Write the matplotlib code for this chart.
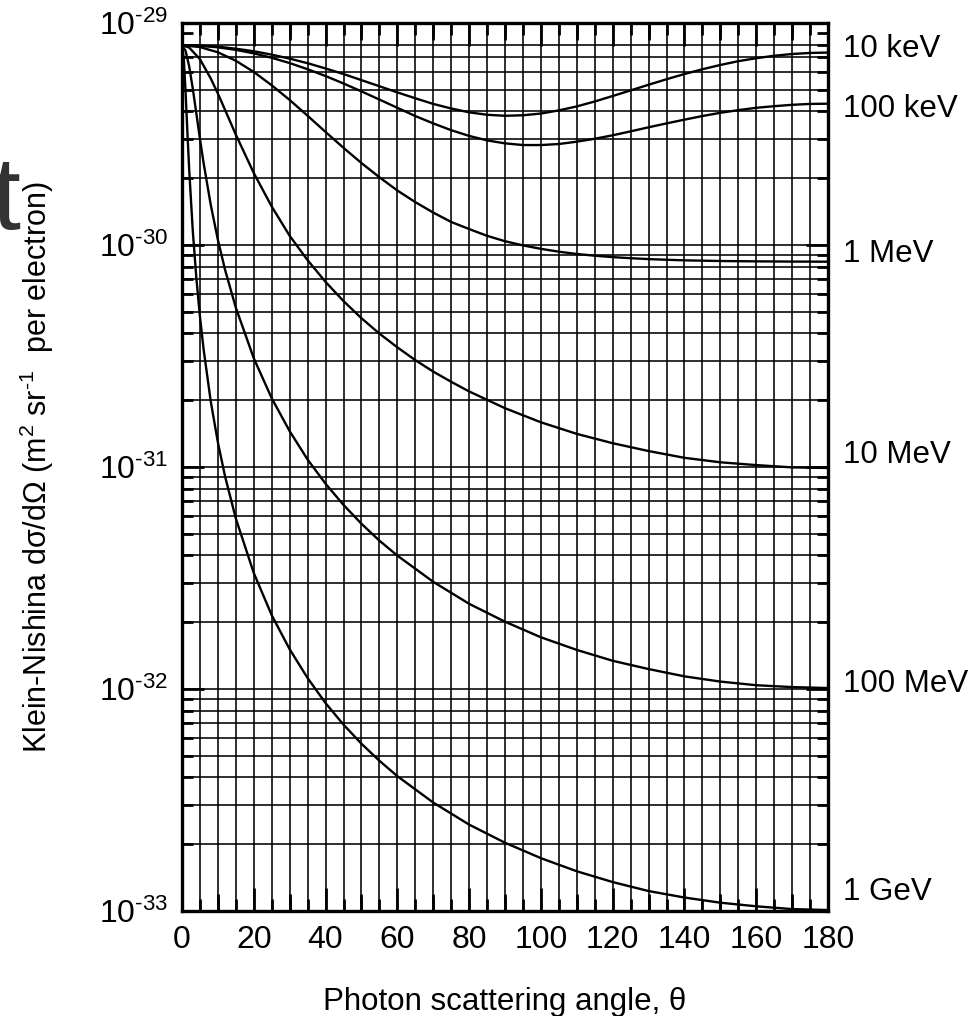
import numpy as np
import matplotlib
matplotlib.use("Agg")
import matplotlib.pyplot as plt
import matplotlib.transforms as mtransforms
from matplotlib.ticker import MultipleLocator, LogLocator, FuncFormatter

plt.rcParams['font.family'] = ['Liberation Sans', 'DejaVu Sans']
plt.rcParams['mathtext.fontset'] = 'custom'
plt.rcParams['mathtext.rm'] = 'Liberation Sans'
plt.rcParams['mathtext.it'] = 'Liberation Sans:italic'
plt.rcParams['mathtext.bf'] = 'Liberation Sans:bold'
plt.rcParams['axes.unicode_minus'] = False

# cross sections, in units of 1e-30 m^2 sr^-1
ang_10keV = [0, 5, 10, 15, 20, 25, 30, 35, 40, 45, 50, 55, 60, 65, 70, 75, 80, 85, 90, 95, 100,
             105, 110, 115, 120, 125, 130, 135, 140, 145, 150, 155, 160, 165, 170, 175, 180]
xs_10keV = [7.94, 7.91, 7.82, 7.66, 7.46, 7.20, 6.91, 6.59, 6.24, 5.89, 5.53, 5.19, 4.87, 4.58,
            4.32, 4.12, 3.96, 3.86, 3.82, 3.84, 3.91, 4.04, 4.21, 4.43, 4.69, 4.97, 5.27, 5.58,
            5.89, 6.19, 6.47, 6.73, 6.94, 7.12, 7.25, 7.33, 7.36]

ang_100keV = [0, 5, 10, 15, 20, 25, 30, 35, 40, 45, 50, 55, 60, 65, 70, 75, 80, 85, 90, 95, 100,
              105, 110, 115, 120, 125, 130, 135, 140, 145, 150, 155, 160, 165, 170, 175, 180]
xs_100keV = [7.94, 7.90, 7.77, 7.57, 7.30, 6.97, 6.60, 6.19, 5.77, 5.34, 4.92, 4.52, 4.15, 3.81,
             3.53, 3.29, 3.10, 2.96, 2.87, 2.82, 2.82, 2.85, 2.92, 3.01, 3.12, 3.25, 3.39, 3.53,
             3.67, 3.81, 3.94, 4.05, 4.15, 4.22, 4.28, 4.32, 4.33]

ang_1MeV = [0, 5, 10, 15, 20, 25, 30, 35, 40, 45, 50, 55, 60, 65, 70, 75, 80, 85, 90, 95, 100,
            105, 110, 115, 120, 125, 130, 135, 140, 150, 160, 170, 180]
xs_1MeV = [7.94, 7.79, 7.38, 6.76, 6.02, 5.24, 4.50, 3.82, 3.23, 2.74, 2.34, 2.02, 1.76, 1.56,
           1.40, 1.27, 1.18, 1.10, 1.04, 0.996, 0.961, 0.933, 0.911, 0.895, 0.882, 0.872, 0.864,
           0.858, 0.853, 0.847, 0.844, 0.842, 0.841]

ang_10MeV = [0, 2, 5, 8, 10, 12, 15, 20, 25, 30, 35, 40, 45, 50, 55, 60, 65, 70, 75, 80, 90, 100,
             110, 120, 130, 140, 150, 160, 170, 180]
xs_10MeV = [7.94, 7.75, 6.87, 5.63, 4.81, 4.06, 3.14, 2.11, 1.49, 1.10, 0.854, 0.682, 0.559,
            0.468, 0.399, 0.346, 0.303, 0.269, 0.242, 0.219, 0.184, 0.159, 0.141, 0.128, 0.118,
            0.110, 0.105, 0.102, 0.0996, 0.0990]

ang_100MeV = [0, 1, 2, 3, 4, 5, 6, 8, 10, 12, 15, 20, 25, 30, 35, 40, 45, 50, 55, 60, 70, 80, 90,
              100, 110, 120, 130, 140, 150, 160, 170, 180]
xs_100MeV = [7.94, 7.49, 6.38, 5.07, 3.91, 3.01, 2.35, 1.52, 1.055, 0.773, 0.522, 0.309, 0.204,
             0.145, 0.108, 0.0841, 0.0675, 0.0555, 0.0466, 0.0399, 0.0304, 0.0242, 0.0201,
             0.0171, 0.0150, 0.0134, 0.0123, 0.0114, 0.0108, 0.0104, 0.0102, 0.0101]

ang_1GeV = [0, 0.5, 1, 1.5, 2, 3, 4, 5, 6, 8, 10, 12, 15, 20, 25, 30, 35, 40, 45, 50, 55, 60, 70,
            80, 90, 100, 110, 120, 130, 140, 150, 160, 170, 180]
xs_1GeV = [7.94, 6.89, 4.87, 3.23, 2.19, 1.16, 0.709, 0.476, 0.341, 0.198, 0.129, 0.0907,
           0.0586, 0.0333, 0.0215, 0.0151, 0.0112, 0.00864, 0.00691, 0.00567, 0.00475, 0.00405,
           0.00308, 0.00245, 0.00203, 0.00173, 0.00151, 0.00135, 0.00123, 0.00115, 0.00109,
           0.00105, 0.00102, 0.00101]

energies = ["10 keV", "100 keV", "1 MeV", "10 MeV", "100 MeV", "1 GeV"]
angles = [ang_10keV, ang_100keV, ang_1MeV, ang_10MeV, ang_100MeV, ang_1GeV]
values = [xs_10keV, xs_100keV, xs_1MeV, xs_10MeV, xs_100MeV, xs_1GeV]
# where the energy labels sit on the right (m^2 sr^-1)
label_y = [7.64e-30, 4.10e-30, 9.12e-31, 1.13e-31, 1.05e-32, 1.22e-33]

fig = plt.figure(figsize=(9.71, 10.16), dpi=100)
ax = fig.add_axes([182/971, 105/1016, 646/971, 888/1016])

for a, v in zip(angles, values):
    ax.plot(a, np.array(v) * 1e-30, color='black', lw=1.7, zorder=3)

ax.set_yscale('log')
ax.set_xlim(0, 180)
ax.set_ylim(1e-33, 1e-29)


def decade_label(v, pos):
    # plain hyphen in the exponent, as in the original
    e = int(round(np.log10(v)))
    return r'$\mathdefault{10^{\text{%d}}}$' % e


ax.xaxis.set_major_locator(MultipleLocator(20))
ax.xaxis.set_minor_locator(MultipleLocator(5))
ax.set_yticks(10.0 ** np.arange(-33, -28))
ax.yaxis.set_major_formatter(FuncFormatter(decade_label))
ax.yaxis.set_minor_locator(LogLocator(base=10, subs=np.arange(2, 10)))
ax.yaxis.set_minor_formatter(plt.NullFormatter())

ax.tick_params(axis='x', which='major', direction='in', length=16.5, width=2,
               top=True, bottom=True, labelsize=23, pad=10)
ax.tick_params(axis='x', which='minor', direction='in', length=8.6, width=2,
               top=True, bottom=True)
ax.tick_params(axis='y', which='major', direction='in', length=16, width=2,
               left=True, right=True, labelsize=23, pad=10)
ax.tick_params(axis='y', which='minor', direction='in', length=8, width=2,
               left=True, right=True)

# medium ticks at the odd tens
for loc in ['bottom', 'top']:
    sec = ax.secondary_xaxis(loc)
    sec.set_xticks(np.arange(10, 180, 20))
    sec.tick_params(direction='in', length=12, width=2,
                    labelbottom=False, labeltop=False)
    sec.spines[loc].set_visible(False)

ax.grid(True, which='both', axis='both', color='black', lw=1.15, zorder=1)
for sp in ax.spines.values():
    sp.set_linewidth(2.4)
    sp.set_zorder(4)

# no grid line at 9e-30 in the original
fig.canvas.draw()
for t in ax.yaxis.get_minor_ticks():
    if abs(t.get_loc() - 9e-30) < 1e-31:
        t.gridline.set_visible(False)

trans = mtransforms.blended_transform_factory(ax.transAxes, ax.transData)
for name, yv in zip(energies, label_y):
    ax.text(1.0232, yv, name, transform=trans, fontsize=22.5, ha='left', va='center',
            clip_on=False)

ax.set_ylabel(r'Klein-Nishina dσ/dΩ (m$^{2}$ sr$^{\text{-1}}$  per electron)', fontsize=22)
ax.yaxis.set_label_coords(-0.195, 0.5)
ax.set_xlabel('Photon scattering angle, θ', fontsize=22.5)
ax.xaxis.set_label_coords(0.5, -0.0855)

fig.text(-9/971, 1 - 203/1016, 't', fontsize=75, color='#333333', ha='left', va='center')

fig.savefig('out.png', dpi=100)
